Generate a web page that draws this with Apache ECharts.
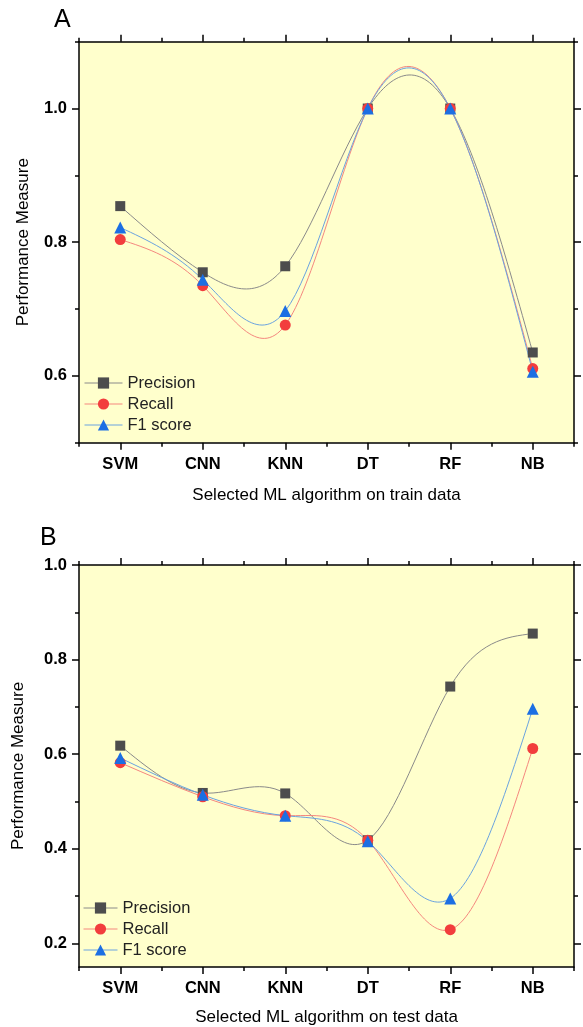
<!DOCTYPE html>
<html>
<head>
<meta charset="utf-8">
<script src="https://cdn.jsdelivr.net/npm/echarts@6/dist/echarts.min.js"></script>
<style>html,body{margin:0;padding:0;background:#fff}#c{width:583px;height:1027px}</style>
</head>
<body>
<div id="c"></div>
<script>
const categories = ['SVM', 'CNN', 'KNN', 'DT', 'RF', 'NB'];
const trainPrecision = [0.854, 0.755, 0.764, 1.0, 1.0, 0.635];
const trainRecall    = [0.804, 0.735, 0.676, 1.0, 1.0, 0.611];
const trainF1        = [0.822, 0.744, 0.697, 1.0, 1.0, 0.606];
const testPrecision  = [0.618, 0.518, 0.517, 0.418, 0.743, 0.855];
const testRecall     = [0.582, 0.510, 0.470, 0.418, 0.229, 0.612];
const testF1         = [0.592, 0.514, 0.470, 0.416, 0.295, 0.696];
const seriesNames = ['Precision', 'Recall', 'F1 score'];

const FONT = 'Liberation Sans, Arial, sans-serif';
const BLACK = '#000';
const marker = ['#4d4d4d', '#f23d3d', '#1c6fe3'];
const lineCol = ['#8a8a8a', '#f5877f', '#6aa3e0'];
const symbols = ['rect', 'circle', 'triangle'];
const symSize = [10, 11, 12];

// natural cubic spline second derivatives (unit spacing, as on a category axis)
function splineM(y) {
  const n = y.length, M = new Array(n).fill(0);
  if (n < 3) return M;
  const c = [], d = [];
  for (let i = 1; i < n - 1; i++) {
    const rhs = 6 * (y[i + 1] - 2 * y[i] + y[i - 1]);
    if (i === 1) { c[i] = 1 / 4; d[i] = rhs / 4; }
    else { const den = 4 - c[i - 1]; c[i] = 1 / den; d[i] = (rhs - d[i - 1]) / den; }
  }
  for (let i = n - 2; i >= 1; i--) M[i] = d[i] - c[i] * (M[i + 1] || 0);
  return M;
}

function catAxis(grid, pos, major, labels) {
  return {
    type: 'category', gridIndex: grid, position: pos, data: categories, boundaryGap: true,
    axisLine: { show: major, lineStyle: { color: BLACK, width: 1.5 } },
    axisTick: { show: true, alignWithLabel: major, length: major ? 7 : 4, inside: false,
                lineStyle: { color: BLACK, width: 1.5 } },
    axisLabel: { show: labels, color: BLACK, fontFamily: FONT, fontWeight: 'bold', fontSize: 16.5, margin: 13 },
    splitLine: { show: false }
  };
}
function hiddenX(grid) { return { type: 'category', gridIndex: grid, data: categories, show: false }; }
function valAxis(grid, pos, min, max, interval, opts) {
  return Object.assign({
    type: 'value', gridIndex: grid, position: pos, min: min, max: max, interval: interval,
    axisLine: { show: opts.line, onZero: false, lineStyle: { color: BLACK, width: 1.5 } },
    axisTick: { show: opts.tick !== 0, length: opts.tick || 4, lineStyle: { color: BLACK, width: 1.5 } },
    axisLabel: { show: !!opts.labels, color: BLACK, fontFamily: FONT, fontWeight: 'bold', fontSize: 16.5, margin: 12,
                 formatter: v => v.toFixed(1) },
    splitLine: { show: false }
  }, opts.extra || {});
}
const yName = { name: 'Performance Measure', nameLocation: 'middle',
  nameTextStyle: { color: BLACK, fontFamily: FONT, fontSize: 17 } };

function makeSeries(vals, xi, yi) {
  const out = [];
  vals.forEach((d, i) => {
    const M = splineM(d);
    out.push({
      name: seriesNames[i] + ' curve', type: 'custom', xAxisIndex: xi, yAxisIndex: yi, data: d,
      z: 2, silent: true, clip: true,
      renderItem: function (params, api) {
        const k = params.dataIndex;
        if (k >= d.length - 1) return null;
        const y0 = d[k], y1 = d[k + 1];
        const s0 = (y1 - y0) - (2 * M[k] + M[k + 1]) / 6;
        const s1 = (y1 - y0) + (M[k] + 2 * M[k + 1]) / 6;
        const p0 = api.coord([k, y0]);
        const p3 = api.coord([k + 1, y1]);
        const c1 = api.coord([k, y0 + s0 / 3]);
        const c2 = api.coord([k + 1, y1 - s1 / 3]);
        const dx = (p3[0] - p0[0]) / 3;
        return {
          type: 'bezierCurve',
          shape: { x1: p0[0], y1: p0[1], x2: p3[0], y2: p3[1],
                   cpx1: p0[0] + dx, cpy1: c1[1], cpx2: p3[0] - dx, cpy2: c2[1] },
          style: { stroke: lineCol[i], lineWidth: 1, fill: null }
        };
      }
    });
    out.push({
      name: seriesNames[i], type: 'line', xAxisIndex: xi, yAxisIndex: yi, data: d,
      symbol: symbols[i], symbolSize: symSize[i], showSymbol: true,
      itemStyle: { color: marker[i] }, lineStyle: { color: lineCol[i], width: 1, opacity: 0 },
      z: 3 + i
    });
  });
  return out;
}

function legendData() {
  return seriesNames.map((n, i) => ({ name: n, lineStyle: { color: lineCol[i], width: 1, opacity: 1 } }));
}

const option = {
  animation: false,
  backgroundColor: '#fff',
  graphic: [
    { type: 'text', left: 54, top: 8, style: { text: 'A', fontFamily: FONT, fontSize: 25, fill: BLACK } },
    { type: 'text', left: 40, top: 526, style: { text: 'B', fontFamily: FONT, fontSize: 25, fill: BLACK } }
  ],
  grid: [
    { left: 79, top: 41.7, width: 495, height: 401, show: true, backgroundColor: '#ffffcc', borderWidth: 0 },
    { left: 79, top: 108.5, width: 495, height: 267.3 },
    { left: 79, top: 565, width: 495, height: 402, show: true, backgroundColor: '#ffffcc', borderWidth: 0 },
    { left: 79, top: 565, width: 495, height: 378.4 }
  ],
  xAxis: [
    Object.assign(catAxis(0, 'bottom', true, true), { name: 'Selected ML algorithm on train data', nameLocation: 'middle', nameGap: 44,
      nameTextStyle: { color: BLACK, fontFamily: FONT, fontSize: 17 } }),
    catAxis(0, 'bottom', false, false),
    catAxis(0, 'top', true, false),
    catAxis(0, 'top', false, false),
    hiddenX(1),
    Object.assign(catAxis(2, 'bottom', true, true), { name: 'Selected ML algorithm on test data', nameLocation: 'middle', nameGap: 42,
      nameTextStyle: { color: BLACK, fontFamily: FONT, fontSize: 17 } }),
    catAxis(2, 'bottom', false, false),
    catAxis(2, 'top', true, false),
    catAxis(2, 'top', false, false),
    hiddenX(3)
  ],
  yAxis: [
    valAxis(0, 'left', 0.5, 1.1, 0.1, { line: true, tick: 4, extra: Object.assign({ nameGap: 47 }, yName) }),
    valAxis(0, 'right', 0.5, 1.1, 0.1, { line: true, tick: 4 }),
    valAxis(1, 'left', 0.6, 1.0, 0.2, { line: false, tick: 7, labels: true }),
    valAxis(1, 'right', 0.6, 1.0, 0.2, { line: false, tick: 7 }),
    valAxis(2, 'left', 0.15, 1.0, null, { line: true, tick: 0, extra: Object.assign({ nameGap: 52 }, yName) }),
    valAxis(2, 'right', 0.15, 1.0, null, { line: true, tick: 0 }),
    valAxis(3, 'left', 0.2, 1.0, 0.1, { line: false, tick: 4 }),
    valAxis(3, 'right', 0.2, 1.0, 0.1, { line: false, tick: 4 }),
    valAxis(3, 'left', 0.2, 1.0, 0.2, { line: false, tick: 7, labels: true }),
    valAxis(3, 'right', 0.2, 1.0, 0.2, { line: false, tick: 7 })
  ],
  legend: [
    { data: legendData(), orient: 'vertical', left: 84, top: 374, padding: 0, itemWidth: 38, itemHeight: 14, itemGap: 3,
      textStyle: { color: '#222', fontFamily: FONT, fontSize: 16.5, lineHeight: 18 }, selectedMode: false },
    { data: legendData(), orient: 'vertical', left: 83, top: 899, padding: 0, itemWidth: 34, itemHeight: 14, itemGap: 3,
      textStyle: { color: '#222', fontFamily: FONT, fontSize: 16.5, lineHeight: 18 }, selectedMode: false }
  ],
  series: [].concat(
    makeSeries([trainPrecision, trainRecall, trainF1], 0, 0),
    makeSeries([testPrecision, testRecall, testF1], 5, 4)
  )
};
const chart = echarts.init(document.getElementById('c'), null, { renderer: 'canvas' });
chart.setOption(option);
</script>
</body>
</html>
